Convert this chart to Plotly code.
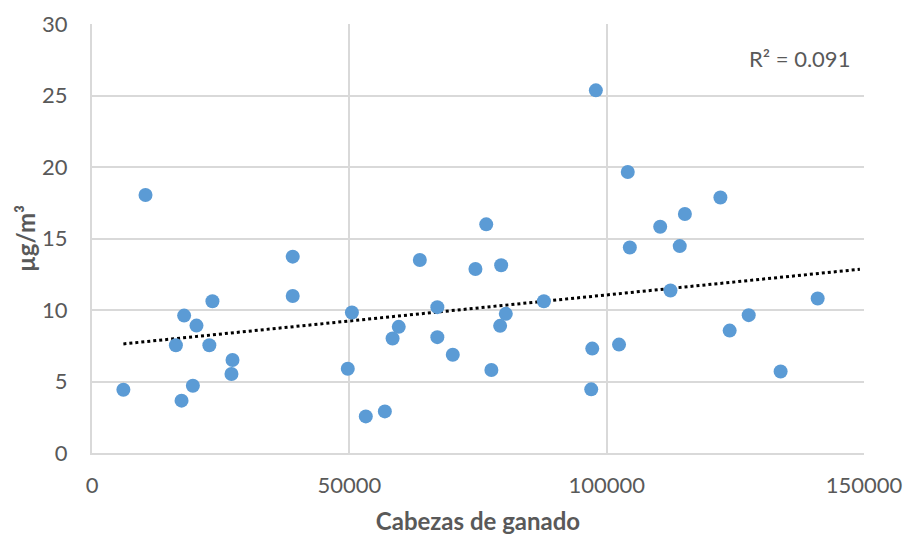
import plotly.graph_objects as go

# Data
cabezas = [10400, 39000, 39000, 23400, 17900, 20300, 16300, 22800, 27300, 27100,
           6100, 19600, 17400, 50500, 49700, 53200, 56900, 63700, 76600, 74500,
           79500, 67100, 59600, 58400, 67100, 70100, 80400, 79300, 77600, 87800,
           97200, 97000, 102400, 104100, 104500, 97900, 110400, 115200, 114200, 122100,
           112400, 141000, 127600, 123900, 133800]
concentracion = [18.04, 13.73, 10.98, 10.61, 9.61, 8.91, 7.54, 7.54, 6.50, 5.52,
                 4.42, 4.70, 3.66, 9.82, 5.89, 2.56, 2.91, 13.50, 15.99, 12.87,
                 13.13, 10.20, 8.82, 8.01, 8.10, 6.87, 9.73, 8.89, 5.80, 10.61,
                 7.30, 4.45, 7.58, 19.65, 14.37, 25.36, 15.82, 16.71, 14.47, 17.87,
                 11.36, 10.80, 9.64, 8.56, 5.70]

trend_x = [6100, 149200]
trend_y = [7.63, 12.85]
r2_text = "R² = 0.091"

x_ticks = [0, 50000, 100000, 150000]
y_ticks = [0, 5, 10, 15, 20, 25, 30]

FONT = "Lato"
GRAY = "#595959"
GRID = "#D9D9D9"

fig = go.Figure()
fig.add_trace(go.Scatter(
    x=trend_x, y=trend_y, mode="lines",
    line=dict(color="black", width=3, dash="dot"),
    hoverinfo="skip", showlegend=False))
fig.add_trace(go.Scatter(
    x=cabezas, y=concentracion, mode="markers",
    marker=dict(color="#5B9BD5", size=14, line=dict(width=0)),
    showlegend=False))

fig.add_annotation(
    x=1, y=1, xref="paper", yref="paper", xanchor="right", yanchor="middle",
    xshift=-12, yshift=-34, text=r2_text, showarrow=False,
    font=dict(family=FONT, size=22, color=GRAY))

fig.update_xaxes(
    range=[0, 150000], tickvals=x_ticks, ticktext=[str(v) for v in x_ticks],
    showgrid=True, gridcolor=GRID, gridwidth=2, automargin=False,
    showline=True, linecolor=GRID, linewidth=2, mirror=False,
    zeroline=False, ticks="", ticklabelstandoff=12, ticklabeloverflow="allow",
    tickfont=dict(family=FONT, size=22, color=GRAY),
    title=dict(text="<b>Cabezas de ganado</b>", standoff=16,
               font=dict(family=FONT, size=24, color=GRAY)))
fig.update_yaxes(
    range=[0, 30], tickvals=y_ticks, automargin=False,
    showgrid=True, gridcolor=GRID, gridwidth=2,
    showline=True, linecolor=GRID, linewidth=2,
    zeroline=False, ticks="", ticklabelstandoff=18,
    tickfont=dict(family=FONT, size=22, color=GRAY),
    title=dict(text="<b>µg/m³</b>", standoff=0,
               font=dict(family=FONT, size=24, color=GRAY)))

fig.update_layout(
    width=904, height=535,
    margin=dict(l=92, r=40, t=24, b=82, pad=0),
    paper_bgcolor="white", plot_bgcolor="white",
    font=dict(family=FONT, color=GRAY))

fig.write_html("out.html")
